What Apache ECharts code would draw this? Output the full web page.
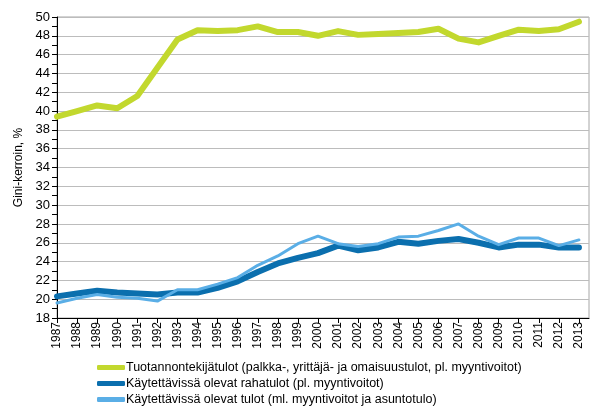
<!DOCTYPE html>
<html><head><meta charset="utf-8">
<script src="https://cdn.jsdelivr.net/npm/echarts@6/dist/echarts.min.js"></script>
<style>html,body{margin:0;padding:0;background:#fff}#c{width:605px;height:416px}</style>
</head><body><div id="c"></div>
<script>
const years = [1987,1988,1989,1990,1991,1992,1993,1994,1995,1996,1997,1998,1999,2000,2001,2002,2003,2004,2005,2006,2007,2008,2009,2010,2011,2012,2013];
const factorIncome = [39.4,40.0,40.6,40.3,41.6,44.6,47.6,48.6,48.5,48.6,49.0,48.4,48.4,48.0,48.5,48.1,48.2,48.3,48.4,48.75,47.7,47.3,48.0,48.65,48.5,48.7,49.5];
const cashIncome = [20.3,20.6,20.9,20.7,20.6,20.5,20.7,20.7,21.2,21.9,22.9,23.8,24.4,24.9,25.7,25.2,25.5,26.1,25.9,26.2,26.4,26.0,25.5,25.8,25.8,25.5,25.5];
const dispIncome = [19.6,20.1,20.5,20.2,20.1,19.8,21.0,21.0,21.6,22.3,23.6,24.6,25.9,26.7,25.9,25.6,25.9,26.6,26.7,27.3,28.0,26.7,25.8,26.5,26.5,25.7,26.3];
const seriesNames = [
  'Tuotannontekijätulot (palkka-, yrittäjä- ja omaisuustulot, pl. myyntivoitot)',
  'Käytettävissä olevat rahatulot (pl. myyntivoitot)',
  'Käytettävissä olevat tulot (ml. myyntivoitot ja asuntotulo)'
];
const yTitle = 'Gini-kerroin, %';

const colors = ['#c2d82e','#0b6fae','#5aaee6'];
const widths = [6,6,3];
const pair = arr => years.map((y,i)=>[y,arr[i]]);
const font = 'Liberation Sans, Arial, sans-serif';
const chart = echarts.init(document.getElementById('c'), null, {renderer:'canvas'});
chart.setOption({
  animation:false,
  textStyle:{fontFamily:font},
  grid:{left:57, top:17, right:16, bottom:98, show:true, borderColor:'#a6a6a6', borderWidth:1},
  xAxis:{
    type:'value', min:1987, max:2013.5, interval:1,
    axisLine:{onZero:false, lineStyle:{color:'#000', width:1}},
    axisTick:{show:true, length:5, lineStyle:{color:'#000'}, customValues: years},
    axisLabel:{rotate:90, color:'#000', fontSize:12, fontFamily:font, margin:4, customValues: years, formatter: v => String(v)},
    splitLine:{show:false}
  },
  yAxis:{
    type:'value', min:18, max:50, interval:2,
    name: yTitle, nameLocation:'middle', nameGap:32, nameRotate:90,
    nameTextStyle:{color:'#000', fontSize:12, fontFamily:font},
    axisLine:{show:true, lineStyle:{color:'#000', width:1}},
    axisTick:{show:true, inside:false, length:5, lineStyle:{color:'#000'}},
    minorTick:{show:true, splitNumber:2, length:5, lineStyle:{color:'#000'}},
    axisLabel:{color:'#000', fontSize:13, fontFamily:font, margin:7},
    splitLine:{show:true, lineStyle:{color:'#bcbcbc', width:1}}
  },
  legend:{
    orient:'vertical', left:97, top:361, padding:0, itemGap:3, itemWidth:28, itemHeight:5,
    textStyle:{color:'#000', fontSize:12.5, fontFamily:font, padding:[0,0,0,-4]},
    data: seriesNames.map((n,i)=>({name:n, icon:'roundRect', itemStyle:{color:colors[i]}}))
  },
  series: [factorIncome, cashIncome, dispIncome].map((arr,i)=>({
    name:seriesNames[i], type:'line', data:pair(arr), showSymbol:false, symbol:'none',
    lineStyle:{color:colors[i], width:widths[i], cap:'round', join:'round'},
    itemStyle:{color:colors[i]}, z:[3,2,4][i]
  }))
});
</script></body></html>
